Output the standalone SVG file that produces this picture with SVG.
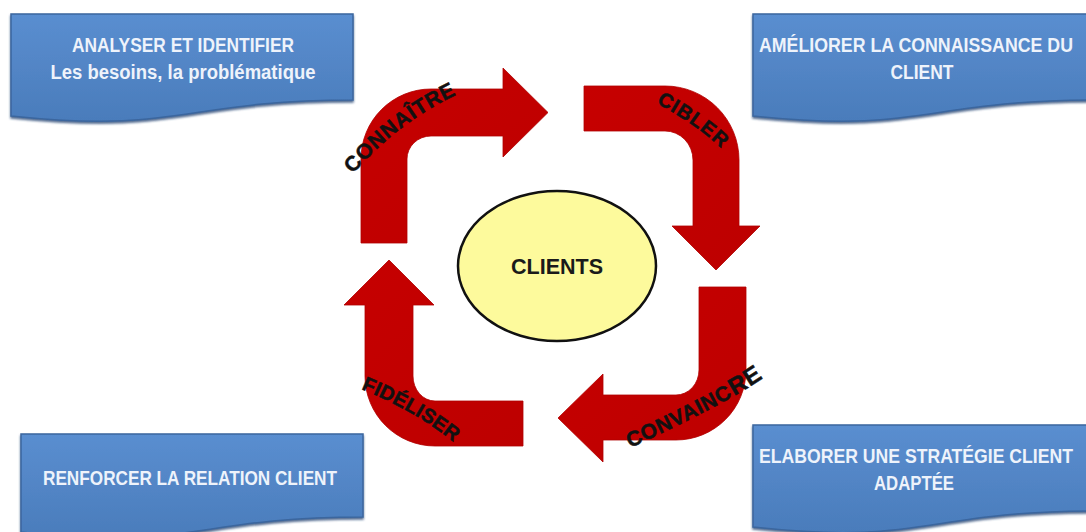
<svg xmlns="http://www.w3.org/2000/svg" width="1086" height="532" viewBox="0 0 1086 532">
<defs>
<linearGradient id="blueGrad" x1="0" y1="0" x2="0" y2="1">
<stop offset="0" stop-color="#5a8ed0"/>
<stop offset="1" stop-color="#4a7cbb"/>
</linearGradient>
<linearGradient id="redGrad" x1="0" y1="0" x2="1" y2="1">
<stop offset="0" stop-color="#c60000"/>
<stop offset="1" stop-color="#bd0000"/>
</linearGradient>
<filter id="shadow" x="-5%" y="-5%" width="110%" height="120%">
<feDropShadow dx="0" dy="2" stdDeviation="1" flood-color="#2a4a78" flood-opacity="0.8"/>
</filter>
<path id="pConn" d="M353,174 Q398.5,121 462,92"/>
<path id="pCib" d="M656,103 Q699,126 726,153"/>
<path id="pConv" d="M630,448 Q752,392 784,362"/>
<path id="pFid" d="M361,389 Q420,413 462,449"/>
</defs>
<style>
.box{fill:url(#blueGrad);stroke:#3b669e;stroke-width:1.5;filter:url(#shadow)}
.btxt{font-family:"Liberation Sans",Arial,sans-serif;font-weight:bold;font-size:20px;fill:#eef3fb;text-anchor:middle}
.arrow{fill:url(#redGrad);stroke:#b00000;stroke-width:0.8}
.lbl{font-family:"Liberation Sans",Arial,sans-serif;font-weight:bold;fill:#111111;stroke:#111111;stroke-width:0.5}
</style>
<rect width="1086" height="532" fill="#ffffff"/>

<g id="box-analyser">
<path class="box" d="M11,14 H353 V100 C182,100 182,134 11,116 Z"/>
<text class="btxt" x="183" y="52" textLength="222" lengthAdjust="spacingAndGlyphs">ANALYSER ET IDENTIFIER</text>
<text class="btxt" x="183" y="79" textLength="265" lengthAdjust="spacingAndGlyphs">Les besoins, la problématique</text>
</g>

<g id="box-ameliorer">
<path class="box" d="M753,14 H1095 V100 C924,100 924,134 753,116 Z"/>
<text class="btxt" x="916" y="52" font-size="18.5" textLength="314" lengthAdjust="spacingAndGlyphs">AMÉLIORER LA CONNAISSANCE DU</text>
<text class="btxt" x="922" y="79" textLength="63" lengthAdjust="spacingAndGlyphs">CLIENT</text>
</g>

<g id="box-renforcer">
<path class="box" d="M21,434 H363 V517 C192,517 192,552 21,532 Z"/>
<text class="btxt" x="190" y="485" textLength="294" lengthAdjust="spacingAndGlyphs">RENFORCER LA RELATION CLIENT</text>
</g>

<g id="box-elaborer">
<path class="box" d="M753,425 H1095 V511 C924,511 924,546 753,527 Z"/>
<text class="btxt" x="916" y="463" font-size="18.5" textLength="314" lengthAdjust="spacingAndGlyphs">ELABORER UNE STRATÉGIE CLIENT</text>
<text class="btxt" x="914" y="490" textLength="80" lengthAdjust="spacingAndGlyphs">ADAPTÉE</text>
</g>

<g id="node-clients">
<ellipse cx="557" cy="266" rx="99" ry="75" fill="#fdfa9c" stroke="#111111" stroke-width="2.5"/>
<text x="557" y="274" text-anchor="middle" font-family="Liberation Sans, Arial, sans-serif" font-weight="bold" font-size="22" fill="#1a1a1a" textLength="92" lengthAdjust="spacingAndGlyphs">CLIENTS</text>
</g>

<g id="connectors">
<path id="arrow-connaitre" class="arrow" d="M361,243 L361,159 A70,70 0 0 1 431,89 L503,89 L503,68 L548,112.5 L503,157 L503,136 L431,136 A24,23 0 0 0 407,159 L407,243 Z"/>
<path id="arrow-cibler" class="arrow" d="M584,86 L665,86 A74,74 0 0 1 739,160 L739,226 L760,226 L716,270 L672,226 L693,226 L693,160 A28,29 0 0 0 665,131 L584,131 Z"/>
<path id="arrow-convaincre" class="arrow" d="M699,287 L746,287 L746,370 A70,70 0 0 1 676,440 L603,440 L603,462 L558,418 L603,374 L603,395 L676,395 A23,25 0 0 0 699,370 Z"/>
<path id="arrow-fideliser" class="arrow" d="M523,401 L435,401 A22,25 0 0 1 413,376 L413,305 L434,305 L389,260 L344,305 L365,305 L365,376 A70,70 0 0 0 435,446 L523,446 Z"/>
<text class="lbl" font-size="21" letter-spacing="0.8"><textPath href="#pConn">CONNAÎTRE</textPath></text>
<text class="lbl" font-size="20" letter-spacing="1"><textPath href="#pCib">CIBLER</textPath></text>
<text class="lbl" font-size="21" letter-spacing="0.6"><textPath href="#pConv">CONVAINC<tspan font-size="24" dx="1">RE</tspan></textPath></text>
<text class="lbl" font-size="20" letter-spacing="0.3"><textPath href="#pFid">FIDÉLISER</textPath></text>
</g>
</svg>
